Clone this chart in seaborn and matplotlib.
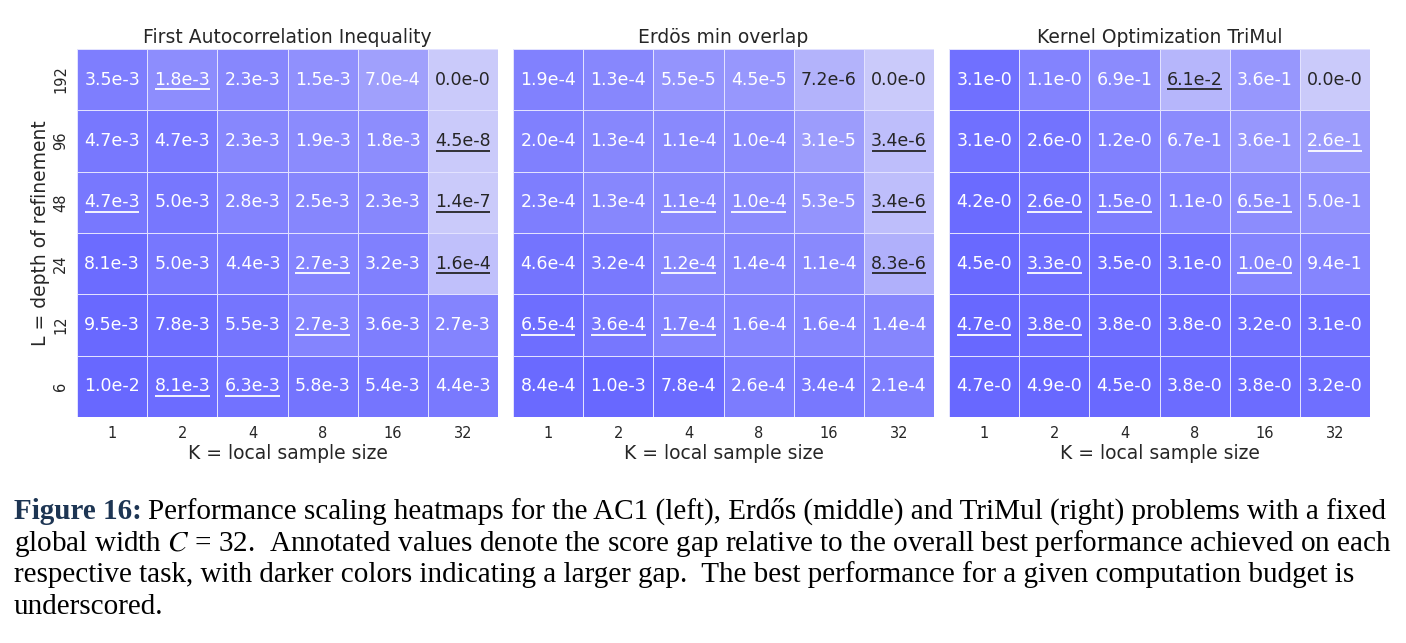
import numpy as np
import matplotlib
matplotlib.use("Agg")
import matplotlib.pyplot as plt
from matplotlib.colors import LinearSegmentedColormap, LogNorm
import seaborn as sns

k_values = [1, 2, 4, 8, 16, 32]
l_values = [192, 96, 48, 24, 12, 6]
titles = ["First Autocorrelation Inequality", "Erdös min overlap", "Kernel Optimization TriMul"]

ac1_gap = np.array([
    [3.5e-3, 1.8e-3, 2.3e-3, 1.5e-3, 7.0e-4, 0.0],
    [4.7e-3, 4.7e-3, 2.3e-3, 1.9e-3, 1.8e-3, 4.5e-8],
    [4.7e-3, 5.0e-3, 2.8e-3, 2.5e-3, 2.3e-3, 1.4e-7],
    [8.1e-3, 5.0e-3, 4.4e-3, 2.7e-3, 3.2e-3, 1.6e-4],
    [9.5e-3, 7.8e-3, 5.5e-3, 2.7e-3, 3.6e-3, 2.7e-3],
    [1.0e-2, 8.1e-3, 6.3e-3, 5.8e-3, 5.4e-3, 4.4e-3],
])
erdos_gap = np.array([
    [1.9e-4, 1.3e-4, 5.5e-5, 4.5e-5, 7.2e-6, 0.0],
    [2.0e-4, 1.3e-4, 1.1e-4, 1.0e-4, 3.1e-5, 3.4e-6],
    [2.3e-4, 1.3e-4, 1.1e-4, 1.0e-4, 5.3e-5, 3.4e-6],
    [4.6e-4, 3.2e-4, 1.2e-4, 1.4e-4, 1.1e-4, 8.3e-6],
    [6.5e-4, 3.6e-4, 1.7e-4, 1.6e-4, 1.6e-4, 1.4e-4],
    [8.4e-4, 1.0e-3, 7.8e-4, 2.6e-4, 3.4e-4, 2.1e-4],
])
trimul_gap = np.array([
    [3.1, 1.1, 6.9e-1, 6.1e-2, 3.6e-1, 0.0],
    [3.1, 2.6, 1.2, 6.7e-1, 3.6e-1, 2.6e-1],
    [4.2, 2.6, 1.5, 1.1, 6.5e-1, 5.0e-1],
    [4.5, 3.3, 3.5, 3.1, 1.0, 9.4e-1],
    [4.7, 3.8, 3.8, 3.8, 3.2, 3.1],
    [4.7, 4.9, 4.5, 3.8, 3.8, 3.2],
])

# best score for a given budget (underscored cells)
ac1_best = np.array([
    [0, 1, 0, 0, 0, 0],
    [0, 0, 0, 0, 0, 1],
    [1, 0, 0, 0, 0, 1],
    [0, 0, 0, 1, 0, 1],
    [0, 0, 0, 1, 0, 0],
    [0, 1, 1, 0, 0, 0],
], dtype=bool)
erdos_best = np.array([
    [0, 0, 0, 0, 0, 0],
    [0, 0, 0, 0, 0, 1],
    [0, 0, 1, 1, 0, 1],
    [0, 0, 1, 0, 0, 1],
    [1, 1, 1, 0, 0, 0],
    [0, 0, 0, 0, 0, 0],
], dtype=bool)
trimul_best = np.array([
    [0, 0, 0, 1, 0, 0],
    [0, 0, 0, 0, 0, 1],
    [0, 1, 1, 0, 1, 0],
    [0, 1, 0, 0, 1, 0],
    [1, 1, 0, 0, 0, 0],
    [0, 0, 0, 0, 0, 0],
], dtype=bool)

# lower end of the log colour scale per task
color_floor = [1e-4, 1.5e-6, 2e-2]

caption_lines = [
    "Performance scaling heatmaps for the AC1 (left), Erdős (middle) and TriMul (right) problems with a fixed",
    "global width $C$ = 32.  Annotated values denote the score gap relative to the overall best performance achieved on each",
    "respective task, with darker colors indicating a larger gap.  The best performance for a given computation budget is",
    "underscored.",
]


def short_sci(v):
    mant, exp = f"{v:.1e}".split("e")
    return f"{mant}e-{abs(int(exp))}"


sns.set_style("white")
plt.rcParams["font.family"] = ["DejaVu Sans"]
plt.rcParams["mathtext.fontset"] = "stix"

cmap = LinearSegmentedColormap.from_list("gap", ["#cacafa", "#6868ff"])

fig = plt.figure(figsize=(14.06, 6.43), dpi=100)
lefts = [0.0548, 0.3649, 0.675]

panels = zip(titles, [ac1_gap, erdos_gap, trimul_gap], [ac1_best, erdos_best, trimul_best], color_floor)
for idx, (title, gap, best, floor) in enumerate(panels):
    ax = fig.add_axes([lefts[idx], 0.3515, 0.2994, 0.5725])
    norm = LogNorm(vmin=floor, vmax=gap.max())
    shade = np.clip(gap, floor, None)
    labels = np.vectorize(short_sci)(gap)
    sns.heatmap(
        shade,
        ax=ax,
        cmap=cmap,
        norm=norm,
        annot=labels,
        fmt="",
        cbar=False,
        linewidths=0.7,
        linecolor="#e2e2ff",
        annot_kws={"fontsize": 12.5},
        xticklabels=k_values,
        yticklabels=l_values if idx == 0 else False,
    )
    # dark text on the light cells, white elsewhere
    text_cols = np.where(norm(shade) < 0.3, ".15", "w")
    for txt, col in zip(ax.texts, text_cols.flat):
        txt.set_color(col)
    # underline the best cells
    for i, j in zip(*np.nonzero(best)):
        ax.plot([j + 0.11, j + 0.89], [i + 0.66, i + 0.66], color=text_cols[i, j], lw=1.3,
                solid_capstyle="butt")

    ax.set_title(title, fontsize=13.5, color=".15", pad=4)
    ax.set_xlabel("K = local sample size", fontsize=13.5, color=".15", labelpad=2)
    ax.tick_params(axis="x", labelsize=10.5, rotation=0, pad=3)
    if idx == 0:
        ax.set_ylabel("L = depth of refinement", fontsize=13.5, color=".15", labelpad=2)
        ax.tick_params(axis="y", labelsize=10.5, rotation=90, pad=3)

# caption under the figure
cap_font = {"family": "Liberation Serif", "fontsize": 21}
fig.canvas.draw()
head = fig.text(14 / 1406, 1 - 519 / 643, "Figure 16:", fontweight="bold", color="#1d3553",
                va="baseline", **cap_font)
bb = head.get_window_extent(renderer=fig.canvas.get_renderer())
fig.text((bb.x1 + 6) / 1406, 1 - 519 / 643, caption_lines[0], va="baseline", color="black", **cap_font)
for n, line in enumerate(caption_lines[1:], start=1):
    fig.text(14 / 1406, 1 - (519 + 31.7 * n) / 643, line, va="baseline", color="black", **cap_font)

fig.savefig("out.png", dpi=100)
